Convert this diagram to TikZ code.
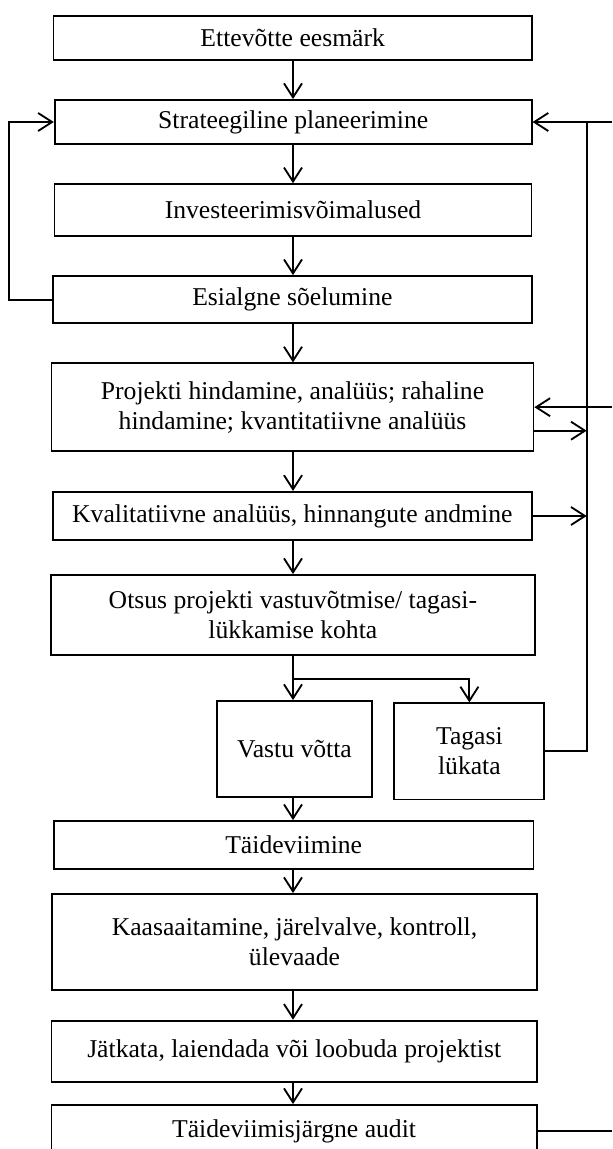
\documentclass[tikz,border=0pt]{standalone}
\usepackage{fontspec}
\setmainfont{Liberation Serif}
\usetikzlibrary{arrows.meta}

\begin{document}
\begin{tikzpicture}[x=0.02cm, y=-0.02cm, line width=1.05pt,
        stage/.style={draw, line width=1.05pt, align=center, inner sep=0pt,
            font=\fontsize{14.6}{17.1}\selectfont},
        flow/.style={-{Straight Barb[length=0.28cm, width=0.36cm, line width=1.05pt]}}]
    \useasboundingbox (0,0) rectangle (612,1149);

    % main column of stages
    \node[stage, minimum width=9.57cm, minimum height=0.886cm] (goal) at (292.7,37.9) {Ettevõtte eesmärk};
    \node[stage, minimum width=9.54cm, minimum height=0.88cm] (plan) at (293.2,122) {Strateegiline planeerimine};
    \node[stage, minimum width=9.54cm, minimum height=1.034cm] (options) at (293,210) {Investeerimisvõimalused};
    \node[stage, minimum width=9.586cm, minimum height=0.946cm] (screen) at (292.4,299.7) {Esialgne sõelumine};
    \node[stage, minimum width=9.64cm, minimum height=1.754cm] (evaluate) at (292.5,407.2)
        {Projekti hindamine, analüüs; rahaline\\hindamine; kvantitatiivne analüüs};
    \node[stage, minimum width=9.586cm, minimum height=0.966cm] (quality) at (292.3,516)
        {Kvalitatiivne analüüs, hinnangute andmine};
    \node[stage, minimum width=9.686cm, minimum height=1.6cm] (decide) at (292.9,615)
        {Otsus projekti vastuvõtmise/ tagasi-\\lükkamise kohta};
    \node[stage, minimum width=3.112cm, minimum height=1.92cm] (accept) at (294.5,749) {Vastu võtta};
    \node[stage, minimum width=3.0cm, minimum height=1.924cm] (reject) at (469.4,751.4) {Tagasi\\lükata};
    \node[stage, minimum width=9.594cm, minimum height=0.966cm] (execute) at (293.7,845.2) {Täideviimine};
    \node[stage, minimum width=9.7cm, minimum height=1.92cm] (monitor) at (294.5,942)
        {Kaasaaitamine, järelvalve, kontroll,\\ülevaade};
    \node[stage, minimum width=9.71cm, minimum height=1.226cm] (proceed) at (294.2,1051.3)
        {Jätkata, laiendada või loobuda projektist};
    \node[stage, minimum width=9.704cm, minimum height=1.04cm] (audit) at (294.1,1131)
        {Täideviimisjärgne audit};

    % helper points
    \coordinate (col) at (293,0);
    \coordinate (rail) at (586.7,122);
    \coordinate (loop) at (9,299.7);
    \coordinate (fork) at (293,679);
    \coordinate (intop) at (612,122);
    \coordinate (inmid) at (612,407.2);
    \coordinate (outlow) at (612,1131);

    % downward flow
    \draw[flow] (col |- goal.south) -- (col |- plan.north);
    \draw[flow] (col |- plan.south) -- (col |- options.north);
    \draw[flow] (col |- options.south) -- (col |- screen.north);
    \draw[flow] (col |- screen.south) -- (col |- evaluate.north);
    \draw[flow] (col |- evaluate.south) -- (col |- quality.north);
    \draw[flow] (col |- quality.south) -- (col |- decide.north);
    \draw (col |- decide.south) -- (fork);
    \draw[flow] (fork) -- (fork |- accept.north);
    \draw[flow] (fork) -| (reject.north);
    \draw[flow] (col |- accept.south) -- (col |- execute.north);
    \draw[flow] (col |- execute.south) -- (col |- monitor.north);
    \draw[flow] (col |- monitor.south) -- (col |- proceed.north);
    \draw[flow] (col |- proceed.south) -- (col |- audit.north);

    % feedback loops
    \draw[flow] (screen.west) -- (loop) |- (plan.west);
    \draw[flow] (intop) -- (plan.east);
    \draw (reject.east) -| (rail);
    \draw[flow] (inmid) -- (evaluate.east);
    \draw[flow] ([yshift=-0.47cm]evaluate.east) -- ([yshift=-0.47cm]evaluate.east -| rail);
    \draw[flow] (quality.east) -- (quality.east -| rail);
    \draw (audit.east) -- (outlow);
\end{tikzpicture}
\end{document}
